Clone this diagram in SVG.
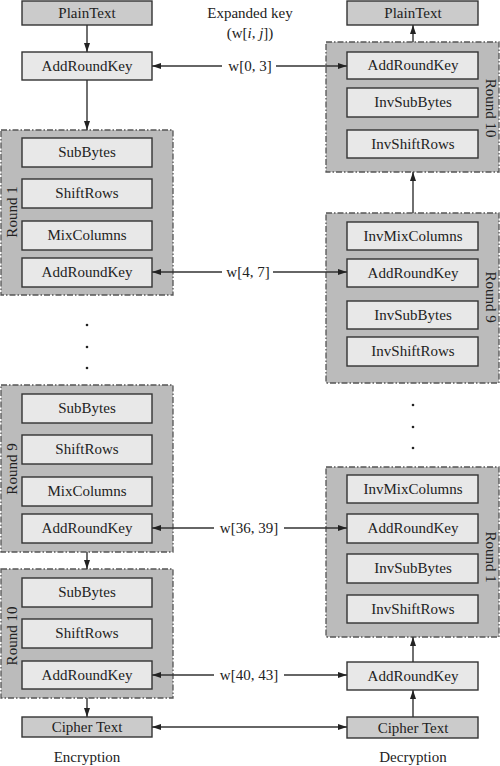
<svg xmlns="http://www.w3.org/2000/svg" width="500" height="766" viewBox="0 0 500 766">
<style>
text{font-family:"Liberation Serif","Times New Roman",serif;font-size:15px;fill:#222;}
.c{text-anchor:middle;}
.grp{fill:#bbbbbb;stroke:#555;stroke-width:1.3;stroke-dasharray:6,2,1.5,2;}
.box{fill:#e8e8e8;stroke:#333;stroke-width:1.4;}
.io{fill:#cbcbcb;stroke:#333;stroke-width:1.4;}
.ln{stroke:#333;stroke-width:1.4;fill:none;}
.dot{fill:#222;}
</style>
<defs>
<marker id="ah" markerWidth="9" markerHeight="6" refX="9" refY="3" orient="auto-start-reverse" markerUnits="userSpaceOnUse">
<path d="M0,0 L9,3 L0,6 z" fill="#222"/>
</marker>
</defs>

<g id="labels">
<text class="c" x="250" y="18">Expanded key</text>
<text class="c" x="250" y="38">(w[<tspan font-style="italic">i</tspan>, <tspan font-style="italic">j</tspan>])</text>
<text class="c" x="87" y="762">Encryption</text>
<text class="c" x="413" y="762">Decryption</text>
</g>

<!-- Encryption side -->
<g id="enc-plain"><rect class="io" x="22" y="1" width="130" height="24"/><text class="c" x="87" y="18">PlainText</text></g>
<g id="enc-ark0"><rect class="box" x="22" y="52" width="130" height="28"/><text class="c" x="87" y="71">AddRoundKey</text></g>

<g id="enc-round1">
<rect class="grp" x="1" y="130" width="172" height="165"/>
<text class="c" transform="translate(17,212) rotate(-90)">Round 1</text>
<rect class="box" x="22" y="138" width="130" height="29"/><text class="c" x="87" y="157">SubBytes</text>
<rect class="box" x="22" y="179" width="130" height="29"/><text class="c" x="87" y="198">ShiftRows</text>
<rect class="box" x="22" y="221" width="130" height="29"/><text class="c" x="87" y="240">MixColumns</text>
<rect class="box" x="22" y="258" width="130" height="29"/><text class="c" x="87" y="277">AddRoundKey</text>
</g>

<g id="enc-dots"><circle class="dot" cx="87" cy="325" r="1.3"/><circle class="dot" cx="87" cy="347" r="1.3"/><circle class="dot" cx="87" cy="368" r="1.3"/></g>

<g id="enc-round9">
<rect class="grp" x="1" y="385" width="172" height="167"/>
<text class="c" transform="translate(17,469) rotate(-90)">Round 9</text>
<rect class="box" x="22" y="394" width="130" height="29"/><text class="c" x="87" y="413">SubBytes</text>
<rect class="box" x="22" y="435" width="130" height="29"/><text class="c" x="87" y="454">ShiftRows</text>
<rect class="box" x="22" y="477" width="130" height="29"/><text class="c" x="87" y="496">MixColumns</text>
<rect class="box" x="22" y="514" width="130" height="29"/><text class="c" x="87" y="533">AddRoundKey</text>
</g>

<g id="enc-round10">
<rect class="grp" x="1" y="569" width="172" height="129"/>
<text class="c" transform="translate(17,636) rotate(-90)">Round 10</text>
<rect class="box" x="22" y="578" width="130" height="29"/><text class="c" x="87" y="597">SubBytes</text>
<rect class="box" x="22" y="619" width="130" height="29"/><text class="c" x="87" y="638">ShiftRows</text>
<rect class="box" x="22" y="661" width="130" height="28"/><text class="c" x="87" y="680">AddRoundKey</text>
</g>

<g id="enc-cipher"><rect class="io" x="22" y="717" width="130" height="20"/><text class="c" x="87" y="732">Cipher Text</text></g>

<!-- Decryption side -->
<g id="dec-plain"><rect class="io" x="347" y="1" width="131" height="24"/><text class="c" x="413" y="18">PlainText</text></g>

<g id="dec-round10">
<rect class="grp" x="326" y="42" width="173" height="130"/>
<text class="c" transform="translate(486,108) rotate(90)">Round 10</text>
<rect class="box" x="347" y="52" width="131" height="27"/><text class="c" x="413" y="70">AddRoundKey</text>
<rect class="box" x="347" y="88" width="131" height="29"/><text class="c" x="413" y="107">InvSubBytes</text>
<rect class="box" x="347" y="130" width="131" height="28"/><text class="c" x="413" y="149">InvShiftRows</text>
</g>

<g id="dec-round9">
<rect class="grp" x="326" y="213" width="173" height="170"/>
<text class="c" transform="translate(486,297) rotate(90)">Round 9</text>
<rect class="box" x="347" y="222" width="131" height="28"/><text class="c" x="413" y="241">InvMixColumns</text>
<rect class="box" x="347" y="259" width="131" height="28"/><text class="c" x="413" y="278">AddRoundKey</text>
<rect class="box" x="347" y="301" width="131" height="28"/><text class="c" x="413" y="320">InvSubBytes</text>
<rect class="box" x="347" y="337" width="131" height="29"/><text class="c" x="413" y="356">InvShiftRows</text>
</g>

<g id="dec-dots"><circle class="dot" cx="413" cy="405" r="1.3"/><circle class="dot" cx="413" cy="427" r="1.3"/><circle class="dot" cx="413" cy="448" r="1.3"/></g>

<g id="dec-round1">
<rect class="grp" x="326" y="467" width="173" height="170"/>
<text class="c" transform="translate(486,557) rotate(90)">Round 1</text>
<rect class="box" x="347" y="475" width="131" height="28"/><text class="c" x="413" y="494">InvMixColumns</text>
<rect class="box" x="347" y="514" width="131" height="29"/><text class="c" x="413" y="533">AddRoundKey</text>
<rect class="box" x="347" y="554" width="131" height="29"/><text class="c" x="413" y="573">InvSubBytes</text>
<rect class="box" x="347" y="595" width="131" height="28"/><text class="c" x="413" y="614">InvShiftRows</text>
</g>

<g id="dec-ark"><rect class="box" x="347" y="662" width="131" height="28"/><text class="c" x="413" y="681">AddRoundKey</text></g>
<g id="dec-cipher"><rect class="io" x="347" y="717" width="131" height="21"/><text class="c" x="413" y="733">Cipher Text</text></g>

<g id="key-labels">
<text class="c" x="250" y="71">w[0, 3]</text>
<text class="c" x="248" y="277">w[4, 7]</text>
<text class="c" x="249" y="533">w[36, 39]</text>
<text class="c" x="249" y="680">w[40, 43]</text>
</g>

<g id="connectors">
<line class="ln" x1="87" y1="25" x2="87" y2="52" marker-end="url(#ah)"/>
<line class="ln" x1="87" y1="80" x2="87" y2="130" marker-end="url(#ah)"/>
<line class="ln" x1="87" y1="552" x2="87" y2="569" marker-end="url(#ah)"/>
<line class="ln" x1="87" y1="698" x2="87" y2="717" marker-end="url(#ah)"/>

<line class="ln" x1="413" y1="42" x2="413" y2="25" marker-end="url(#ah)"/>
<line class="ln" x1="413" y1="213" x2="413" y2="172" marker-end="url(#ah)"/>
<line class="ln" x1="413" y1="662" x2="413" y2="637" marker-end="url(#ah)"/>
<line class="ln" x1="413" y1="717" x2="413" y2="690" marker-end="url(#ah)"/>

<line class="ln" x1="222" y1="66" x2="152" y2="66" marker-end="url(#ah)"/>
<line class="ln" x1="276" y1="66" x2="347" y2="66" marker-end="url(#ah)"/>
<line class="ln" x1="222" y1="272" x2="152" y2="272" marker-end="url(#ah)"/>
<line class="ln" x1="273" y1="272" x2="347" y2="272" marker-end="url(#ah)"/>
<line class="ln" x1="214" y1="528" x2="152" y2="528" marker-end="url(#ah)"/>
<line class="ln" x1="284" y1="528" x2="347" y2="528" marker-end="url(#ah)"/>
<line class="ln" x1="214" y1="675" x2="152" y2="675" marker-end="url(#ah)"/>
<line class="ln" x1="284" y1="675" x2="347" y2="675" marker-end="url(#ah)"/>
<line class="ln" x1="152" y1="727" x2="347" y2="727" marker-start="url(#ah)" marker-end="url(#ah)"/>
</g>
</svg>
